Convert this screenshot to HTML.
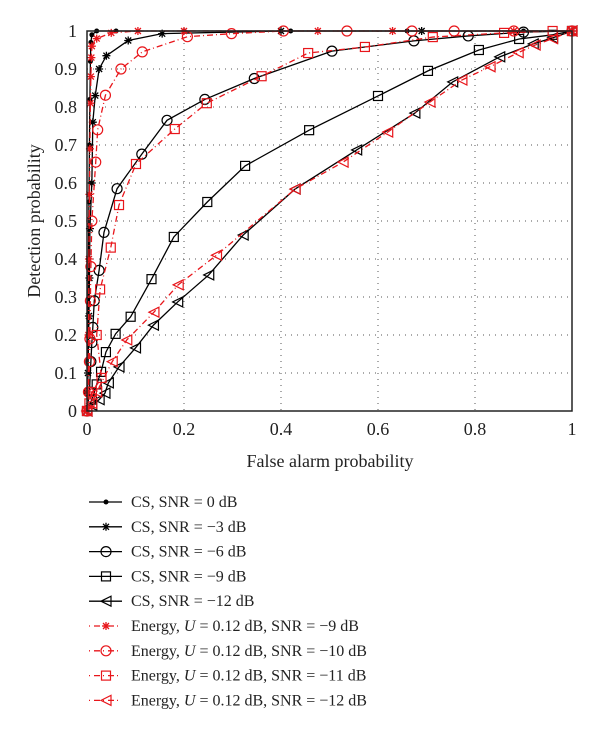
<!DOCTYPE html>
<html><head><meta charset="utf-8"><style>
body{margin:0;background:#fff;}
svg{display:block;font-family:"Liberation Serif",serif;}
</style></head><body>
<svg id="chart" width="600" height="732" viewBox="0 0 600 732" xmlns="http://www.w3.org/2000/svg">
<g id="grid"></g>
<g id="series"></g>
<rect x="87" y="31" width="485" height="380" fill="none" stroke="#222" stroke-width="1.5"/>
<g id="ticks" font-size="18" fill="#222"></g>
<text x="330" y="467" font-size="18" text-anchor="middle" fill="#222">False alarm probability</text>
<text x="0" y="0" transform="translate(40,221) rotate(-90)" font-size="18" text-anchor="middle" fill="#222">Detection probability</text>
<g id="legend" font-size="16" fill="#222"></g>
</svg>
<script>
const xTicks=[0,0.2,0.4,0.6,0.8,1];
const yTicks=[0,0.1,0.2,0.3,0.4,0.5,0.6,0.7,0.8,0.9,1];
const cs0=[[0,0],[0.001,0.05],[0.002,0.2],[0.003,0.4],[0.004,0.55],[0.005,0.7],[0.006,0.82],[0.007,0.92],[0.008,0.97],[0.01,0.99],[0.02,1],[0.06,1],[0.2,1],[0.42,1],[0.66,1],[0.9,1],[1,1]];
const cs3=[[0,0],[0.002,0.1],[0.004,0.25],[0.005,0.35],[0.006,0.48],[0.01,0.6],[0.012,0.76],[0.017,0.83],[0.025,0.9],[0.04,0.935],[0.085,0.975],[0.155,0.993],[0.4,1],[0.69,1],[1,1]];
const cs6=[[0,0],[0.005,0.05],[0.008,0.13],[0.01,0.18],[0.012,0.22],[0.015,0.29],[0.025,0.37],[0.035,0.47],[0.062,0.585],[0.113,0.676],[0.165,0.765],[0.243,0.82],[0.345,0.875],[0.505,0.947],[0.674,0.974],[0.786,0.987],[0.9,0.997],[1,1]];
const cs9=[[0,0],[0.01,0.03],[0.02,0.07],[0.029,0.103],[0.039,0.155],[0.059,0.203],[0.09,0.248],[0.133,0.347],[0.179,0.458],[0.248,0.55],[0.326,0.645],[0.458,0.739],[0.6,0.829],[0.703,0.895],[0.808,0.95],[0.891,0.979],[0.96,0.99],[1,1]];
const cs12=[[0,0],[0.01,0.015],[0.025,0.03],[0.037,0.047],[0.044,0.074],[0.066,0.116],[0.1,0.166],[0.137,0.226],[0.187,0.287],[0.251,0.358],[0.322,0.463],[0.429,0.584],[0.556,0.687],[0.676,0.784],[0.754,0.866],[0.851,0.932],[0.92,0.966],[0.96,0.982],[1,1]];
const en9=[[0,0],[0.002,0.05],[0.003,0.2],[0.004,0.4],[0.005,0.57],[0.006,0.69],[0.007,0.81],[0.008,0.88],[0.009,0.93],[0.01,0.96],[0.02,0.98],[0.05,0.995],[0.105,1],[0.2,1],[0.476,1],[0.63,1],[0.88,1],[1,1]];
const en10=[[0,0],[0.003,0.05],[0.005,0.13],[0.006,0.19],[0.007,0.29],[0.008,0.38],[0.01,0.5],[0.018,0.655],[0.022,0.74],[0.038,0.831],[0.07,0.9],[0.114,0.945],[0.207,0.985],[0.298,0.993],[0.405,1],[0.536,1],[0.67,1],[0.757,1],[0.88,1],[1,1]];
const en11=[[0,0],[0.005,0.02],[0.01,0.05],[0.03,0.087],[0.02,0.2],[0.027,0.32],[0.049,0.43],[0.066,0.542],[0.101,0.65],[0.181,0.742],[0.247,0.81],[0.36,0.881],[0.456,0.942],[0.573,0.958],[0.713,0.984],[0.86,0.995],[0.96,1],[1,1]];
const en12=[[0,0],[0.01,0.02],[0.02,0.05],[0.052,0.13],[0.082,0.187],[0.138,0.26],[0.188,0.332],[0.267,0.41],[0.429,0.584],[0.528,0.655],[0.62,0.734],[0.707,0.813],[0.773,0.871],[0.831,0.906],[0.889,0.943],[0.924,0.963],[0.96,0.98],[1,1]];
const legendLabels=["CS, SNR = 0 dB","CS, SNR = \u22123 dB","CS, SNR = \u22126 dB","CS, SNR = \u22129 dB","CS, SNR = \u221212 dB","Energy, U = 0.12 dB, SNR = \u22129 dB","Energy, U = 0.12 dB, SNR = \u221210 dB","Energy, U = 0.12 dB, SNR = \u221211 dB","Energy, U = 0.12 dB, SNR = \u221212 dB"];
const NS="http://www.w3.org/2000/svg";
const X0=87,X1=572,Y0=411,Y1=31;
function sx(v){return X0+v*(X1-X0);}
function sy(v){return Y0-v*(Y0-Y1);}
function mk(t,a,p){const e=document.createElementNS(NS,t);for(const k in a)e.setAttribute(k,a[k]);p.appendChild(e);return e;}
const grid=document.getElementById('grid'),ticks=document.getElementById('ticks');
xTicks.forEach(v=>{
 if(v>0&&v<1){const l=mk('line',{x1:sx(v),x2:sx(v),y1:Y1,y2:Y0,stroke:'#555','stroke-width':1,'stroke-dasharray':'1,5'},grid);
 }
 const t=mk('text',{x:sx(v),y:Y0+24,'text-anchor':'middle'},ticks);t.textContent=String(v);
 
});
yTicks.forEach(v=>{
 if(v>0&&v<1){const l=mk('line',{x1:X0,x2:X1,y1:sy(v),y2:sy(v),stroke:'#555','stroke-width':1,'stroke-dasharray':'1,5'},grid);
 }
 const t=mk('text',{x:X0-10,y:sy(v)+6,'text-anchor':'end'},ticks);t.textContent=String(v);
 
});
function marker(type,x,y,c,p){
 let e;
 if(type==='dot'){e=mk('circle',{cx:x,cy:y,r:2.5,fill:c},p);}
 else if(type==='star'){e=mk('path',{d:`M${x-4},${y}H${x+4}M${x},${y-4}V${y+4}M${x-3},${y-3}L${x+3},${y+3}M${x-3},${y+3}L${x+3},${y-3}`,stroke:c,'stroke-width':1.3,fill:'none'},p);}
 else if(type==='circle'){e=mk('circle',{cx:x,cy:y,r:5,fill:'none',stroke:c,'stroke-width':1.2},p);}
 else if(type==='square'){e=mk('rect',{x:x-4.5,y:y-4.5,width:9,height:9,fill:'none',stroke:c,'stroke-width':1.2},p);}
 else {e=mk('path',{d:`M${x-5},${y}L${x+5},${y-5}L${x+5},${y+5}Z`,fill:'none',stroke:c,'stroke-width':1.2},p);}
 
}
const S=[[cs0,'dot','#000',''],[cs3,'star','#000',''],[cs6,'circle','#000',''],[cs9,'square','#000',''],[cs12,'tri','#000',''],[en9,'star','#e8161b','6,3,1,3'],[en10,'circle','#e8161b','6,3,1,3'],[en11,'square','#e8161b','6,3,1,3'],[en12,'tri','#e8161b','6,3,1,3']];
const names=['cs-snr-0','cs-snr-m3','cs-snr-m6','cs-snr-m9','cs-snr-m12','energy-snr-m9','energy-snr-m10','energy-snr-m11','energy-snr-m12'];
const sg=document.getElementById('series');
S.forEach((s,i)=>{
 const g=mk('g',{},sg);
 const pl=mk('polyline',{points:s[0].map(p=>sx(p[0])+','+sy(p[1])).join(' '),fill:'none',stroke:s[2],'stroke-width':1.3,'stroke-dasharray':s[3]||'none'},g);
 
 s[0].forEach(p=>marker(s[1],sx(p[0]),sy(p[1]),s[2],g));
});
const lg=document.getElementById('legend');
legendLabels.forEach((lab,i)=>{
 const y=502+i*24.8;const s=S[i];
 const g=mk('g',{},lg);
 mk('line',{x1:89,x2:122,y1:y,y2:y,stroke:s[2],'stroke-width':1.3,'stroke-dasharray':s[3]?'1,4,6,3':'none'},g);
 marker(s[1],106,y,s[2],g);
 const t=mk('text',{x:131,y:y+5},g);
 if(i>=5){const parts=lab.split('U');t.appendChild(document.createTextNode(parts[0]));const it=mk('tspan',{'font-style':'italic'},t);it.textContent='U';t.appendChild(document.createTextNode(parts[1]));}
 else t.textContent=lab;
});
</script>
</body></html>
